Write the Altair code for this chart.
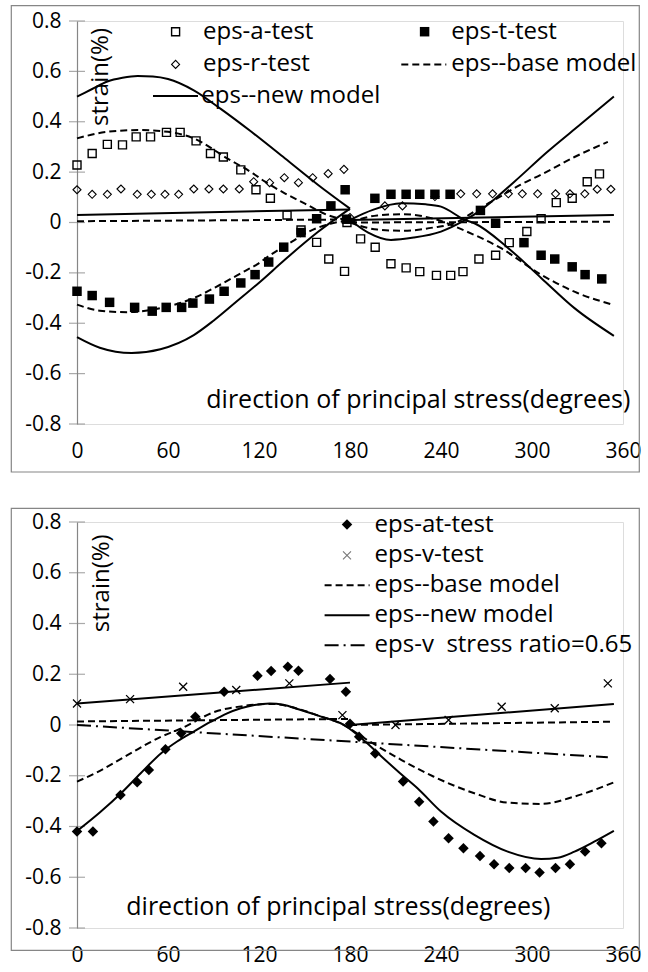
import altair as alt
import pandas as pd

FONT = "Open Sans"
GREY = "#868686"
INK = "#000000"

# ---------------- upper panel: measured strains ----------------
A_TEST_DEG = [0, 10, 20, 30, 39, 48.5, 59, 68, 78.5, 88, 96.5, 108, 118, 127.5, 138.5, 147.7,
              158, 166, 176.4, 178, 187, 196.6, 207, 217, 226, 237, 246.4, 254.5, 265, 276,
              285, 296.6, 306, 316, 326.5, 336.4, 344.5]
A_TEST_VAL = [0.228, 0.274, 0.31, 0.308, 0.34, 0.34, 0.358, 0.358, 0.324, 0.274, 0.26, 0.209,
              0.13, 0.096, 0.03, -0.03, -0.079, -0.145, -0.194, 0.0, -0.065, -0.098, -0.164,
              -0.18, -0.195, -0.21, -0.21, -0.195, -0.145, -0.13, -0.08, -0.036, 0.015, 0.079,
              0.096, 0.162, 0.193]

R_TEST_DEG = [0, 10, 20, 29, 39.7, 49, 58, 67, 77, 87, 96.5, 107, 116.5, 127, 136.7, 146,
              155.4, 165.6, 176, 180, 203, 214.6, 236, 253, 263.5, 274, 284.4, 293.6, 303.7,
              315.5, 325, 334.8, 343, 352]
R_TEST_VAL = [0.13, 0.112, 0.112, 0.133, 0.112, 0.112, 0.112, 0.112, 0.133, 0.133, 0.133,
              0.133, 0.162, 0.158, 0.178, 0.158, 0.178, 0.194, 0.211, 0.02, 0.066, 0.066,
              0.103, 0.114, 0.114, 0.114, 0.114, 0.114, 0.114, 0.114, 0.114, 0.114, 0.132,
              0.132]

T_TEST_DEG = [0, 10, 21.5, 38, 49.6, 58.8, 69, 76.4, 87.3, 97, 108, 117.4, 126.4, 136.3,
              147.7, 158, 167.4, 176.8, 177.7, 196.4, 207, 217, 226, 236, 246, 266, 276,
              294.7, 306, 315, 326.5, 335, 346]
T_TEST_VAL = [-0.273, -0.29, -0.317, -0.337, -0.352, -0.337, -0.337, -0.32, -0.304, -0.273,
              -0.24, -0.207, -0.157, -0.098, -0.04, 0.015, 0.066, 0.13, 0.013, 0.096, 0.112,
              0.112, 0.112, 0.112, 0.112, 0.048, -0.003, -0.08, -0.13, -0.145, -0.176,
              -0.207, -0.224]

# ---------------- upper panel: model curves (two branches each) ----------------
A_NEW_L_DEG = [0, 10, 20, 30, 40, 50, 60, 77, 95, 115, 137, 159, 180]
A_NEW_L_VAL = [0.50, 0.53, 0.56, 0.575, 0.582, 0.58, 0.57, 0.525, 0.45, 0.36, 0.255, 0.149, 0.055]
A_NEW_R_DEG = [180, 192, 207, 222, 240, 256, 266, 288, 310, 332, 354]
A_NEW_R_VAL = [0.01, -0.04, -0.069, -0.06, -0.036, 0.01, 0.048, 0.16, 0.28, 0.39, 0.50]

T_NEW_L_DEG = [0, 15, 36, 55, 77, 90, 105, 121, 137, 159, 180]
T_NEW_L_VAL = [-0.455, -0.497, -0.518, -0.503, -0.447, -0.39, -0.315, -0.234, -0.148, -0.037,
               0.055]
T_NEW_R_DEG = [180, 195, 214, 230, 240, 256, 262, 284, 306, 328, 354]
T_NEW_R_VAL = [0.01, 0.05, 0.076, 0.072, 0.063, 0.01, -0.003, -0.1, -0.22, -0.34, -0.45]

R_NEW_L_DEG = [0, 180]
R_NEW_L_VAL = [0.03, 0.052]
R_NEW_R_DEG = [180, 354]
R_NEW_R_VAL = [0.01, 0.03]

A_BASE_L_DEG = [0, 20, 40, 60, 77, 99, 116, 124, 137, 150, 165, 180]
A_BASE_L_VAL = [0.334, 0.36, 0.367, 0.36, 0.334, 0.255, 0.195, 0.162, 0.116, 0.076, 0.03, 0.008]
A_BASE_R_DEG = [180, 198, 215, 235, 250, 262, 277, 292.5, 306, 328, 350]
A_BASE_R_VAL = [0.0, -0.028, -0.033, -0.02, 0.0, 0.044, 0.096, 0.15, 0.19, 0.26, 0.32]

T_BASE_L_DEG = [0, 15, 33, 55, 77, 95, 110, 119, 126, 142, 151, 167, 180]
T_BASE_L_VAL = [-0.326, -0.35, -0.356, -0.34, -0.30, -0.245, -0.195, -0.165, -0.135, -0.075,
                -0.042, -0.005, 0.008]
T_BASE_R_DEG = [180, 198, 215, 235, 257, 279, 306, 330, 352]
T_BASE_R_VAL = [0.0, 0.028, 0.033, 0.015, -0.036, -0.1, -0.207, -0.28, -0.324]

R_BASE_L_DEG = [0, 180]
R_BASE_L_VAL = [0.005, 0.012]
R_BASE_R_DEG = [180, 354]
R_BASE_R_VAL = [0.0, 0.003]

# ---------------- lower panel: measured strains ----------------
AT_TEST_DEG = [0, 10.5, 28.7, 39.7, 47.4, 58.3, 68.7, 78, 97, 119, 128, 139, 146, 166.8,
               177.3, 180, 186, 196.6, 215, 225.6, 235, 245, 254.8, 265.7, 275, 285, 295.8,
               305, 315.5, 325, 335, 345.8]
AT_TEST_VAL = [-0.42, -0.42, -0.276, -0.226, -0.177, -0.096, -0.033, 0.033, 0.131, 0.194,
               0.213, 0.23, 0.214, 0.181, 0.131, 0.005, -0.046, -0.112, -0.223, -0.302, -0.38,
               -0.446, -0.486, -0.516, -0.549, -0.564, -0.564, -0.581, -0.564, -0.549,
               -0.499, -0.466]

V_TEST_DEG = [0, 35, 70, 105, 140, 175, 210, 245, 280, 315, 350]
V_TEST_VAL = [0.085, 0.102, 0.151, 0.138, 0.164, 0.039, 0.0, 0.02, 0.072, 0.066, 0.164]

# ---------------- lower panel: model curves ----------------
AT_NEW_DEG = [0, 15, 29, 42, 55.5, 66, 77, 88, 99, 108, 117, 127, 136, 146, 160, 176, 190,
              202, 213, 224.5, 240, 262, 284, 306, 317, 328, 341, 354]
AT_NEW_VAL = [-0.418, -0.345, -0.269, -0.19, -0.111, -0.065, -0.026, 0.012, 0.046, 0.066,
              0.079, 0.085, 0.08, 0.062, 0.035, 0.0, -0.065, -0.131, -0.19, -0.249, -0.341,
              -0.433, -0.499, -0.528, -0.523, -0.499, -0.46, -0.417]

AT_BASE_DEG = [0, 12, 33.5, 55.5, 69, 91, 110, 128, 145, 160, 176, 189, 214, 235, 262, 284,
               306, 328, 354]
AT_BASE_VAL = [-0.223, -0.19, -0.118, -0.046, -0.013, 0.052, 0.075, 0.083, 0.065, 0.035, 0.0,
               -0.05, -0.138, -0.203, -0.269, -0.306, -0.311, -0.282, -0.226]

V_NEW_L_DEG = [0, 180]
V_NEW_L_VAL = [0.085, 0.167]
V_NEW_R_DEG = [180, 354]
V_NEW_R_VAL = [0.0, 0.083]

V_BASE_L_DEG = [0, 180]
V_BASE_L_VAL = [0.014, 0.024]
V_BASE_R_DEG = [180, 354]
V_BASE_R_VAL = [0.0, 0.013]

V_RATIO_DEG = [0, 350]
V_RATIO_VAL = [0.0, -0.127]

# ---------------- axis ticks ----------------
X_TICKS = [0, 60, 120, 180, 240, 300, 360]
Y_TICKS = [0.8, 0.6, 0.4, 0.2, 0.0, -0.2, -0.4, -0.6, -0.8]

PLOT_W = 546
TOP_H = 403
BOT_H = 406
TEXT_SIZE = 24
TICK_SIZE = 21


def points(deg, val):
    return pd.DataFrame({"deg": deg, "val": val})


def curves(pairs):
    rows = []
    for name, (deg, val) in pairs.items():
        for d, v in zip(deg, val):
            rows.append({"curve": name, "deg": d, "val": v})
    return pd.DataFrame(rows)


X_ENC = alt.X("deg:Q", scale=alt.Scale(domain=[0, 360], nice=False, zero=False),
              axis=alt.Axis(values=X_TICKS, grid=False, ticks=False, domain=False,
                            title=None, labelFontSize=TICK_SIZE, labelFont=FONT,
                            labelColor=INK, labelPadding=16, labelFlush=False,
                            labelOverlap=False, format="d"))
Y_ENC = alt.Y("val:Q", scale=alt.Scale(domain=[-0.8, 0.8], nice=False, zero=False),
              axis=alt.Axis(values=Y_TICKS, grid=False, ticks=False, domain=True,
                            domainColor=GREY, domainWidth=1.2, title=None,
                            labelFontSize=TICK_SIZE, labelFont=FONT, labelColor=INK,
                            labelPadding=16, labelFlush=False, labelOverlap=False,
                            labelExpr="datum.value == 0 ? '0' : (datum.value < 0 ? '-' : '') + format(abs(datum.value), '.1f')"))


def line_layer(df, dash=None):
    kw = dict(color=INK, strokeWidth=2, interpolate="monotone")
    if dash:
        kw["strokeDash"] = dash
    return alt.Chart(df).mark_line(**kw).encode(x=X_ENC, y=Y_ENC, detail="curve:N")


def one_row(label=""):
    return pd.DataFrame({"t": [label]})


def leg_text(label, px, py):
    return alt.Chart(one_row(label)).mark_text(
        align="left", baseline="middle", fontSize=TEXT_SIZE, font=FONT, color=INK
    ).encode(x=alt.value(px), y=alt.value(py), text="t:N")


def leg_point(px, py, **mk):
    return alt.Chart(one_row()).mark_point(**mk).encode(x=alt.value(px), y=alt.value(py))


def leg_rule(x1, x2, py, dash=None):
    kw = dict(color=INK, strokeWidth=2)
    if dash:
        kw["strokeDash"] = dash
    return alt.Chart(one_row()).mark_rule(**kw).encode(
        x=alt.value(x1), x2=alt.value(x2), y=alt.value(py))


def frame(h_top, h_bottom):
    return alt.Chart(one_row()).mark_rect(
        fillOpacity=0, stroke=GREY, strokeWidth=1.2
    ).encode(x=alt.value(-65.7), x2=alt.value(562.3), y=alt.value(h_top), y2=alt.value(h_bottom))


def y_ticks():
    return alt.Chart(pd.DataFrame({"val": Y_TICKS})).mark_tick(
        color=GREY, thickness=1.2, size=16, orient="horizontal"
    ).encode(y=Y_ENC, x=alt.value(0))


def axis_titles(sx, sy, dx, dy):
    strain = alt.Chart(one_row("strain(%)")).mark_text(
        angle=270, fontSize=TEXT_SIZE, font=FONT, color=INK, align="center", baseline="middle"
    ).encode(x=alt.value(sx), y=alt.value(sy), text="t:N")
    direction = alt.Chart(one_row("direction of principal stress(degrees)")).mark_text(
        fontSize=25, font=FONT, color=INK, align="center", baseline="middle"
    ).encode(x=alt.value(dx), y=alt.value(dy), text="t:N")
    return strain, direction


MARKER_STROKE = 1.4

# ---------------- upper panel ----------------
top_solid = curves({
    "a_l": (A_NEW_L_DEG, A_NEW_L_VAL), "a_r": (A_NEW_R_DEG, A_NEW_R_VAL),
    "t_l": (T_NEW_L_DEG, T_NEW_L_VAL), "t_r": (T_NEW_R_DEG, T_NEW_R_VAL),
    "r_l": (R_NEW_L_DEG, R_NEW_L_VAL), "r_r": (R_NEW_R_DEG, R_NEW_R_VAL),
})
top_dashed = curves({
    "a_l": (A_BASE_L_DEG, A_BASE_L_VAL), "a_r": (A_BASE_R_DEG, A_BASE_R_VAL),
    "t_l": (T_BASE_L_DEG, T_BASE_L_VAL), "t_r": (T_BASE_R_DEG, T_BASE_R_VAL),
    "r_l": (R_BASE_L_DEG, R_BASE_L_VAL), "r_r": (R_BASE_R_DEG, R_BASE_R_VAL),
})

a_pts = alt.Chart(points(A_TEST_DEG, A_TEST_VAL)).mark_point(
    shape="square", filled=False, color=INK, strokeWidth=MARKER_STROKE, size=64, opacity=1
).encode(x=X_ENC, y=Y_ENC)
r_pts = alt.Chart(points(R_TEST_DEG, R_TEST_VAL)).mark_point(
    shape="diamond", filled=False, color=INK, strokeWidth=1.1, size=64, opacity=1
).encode(x=X_ENC, y=Y_ENC)
t_pts = alt.Chart(points(T_TEST_DEG, T_TEST_VAL)).mark_point(
    shape="square", filled=True, color=INK, size=90, opacity=1
).encode(x=X_ENC, y=Y_ENC)

s1, d1 = axis_titles(24.3, 56, 341.3, 378.7)

top = alt.layer(
    frame(-15.3, 451),
    y_ticks(),
    line_layer(top_dashed, [7, 4]),
    line_layer(top_solid),
    r_pts, a_pts, t_pts,
    s1, d1,
    leg_point(98.6, 10.7, shape="square", filled=False, color=INK, strokeWidth=MARKER_STROKE, size=64, opacity=1),
    leg_text("eps-a-test", 126, 10.7),
    leg_point(347.6, 10.7, shape="square", filled=True, color=INK, size=90, opacity=1),
    leg_text("eps-t-test", 374.3, 10.7),
    leg_point(98.6, 43.4, shape="diamond", filled=False, color=INK, strokeWidth=1.1, size=64, opacity=1),
    leg_text("eps-r-test", 126, 43.4),
    leg_rule(324.3, 369.3, 43.4, [7, 4]),
    leg_text("eps--base model", 374.3, 43.4),
    leg_rule(76, 121, 75),
    leg_text("eps--new model", 124.3, 75),
).properties(width=PLOT_W, height=TOP_H)

# ---------------- lower panel ----------------
bot_solid = curves({
    "at": (AT_NEW_DEG, AT_NEW_VAL),
    "v_l": (V_NEW_L_DEG, V_NEW_L_VAL), "v_r": (V_NEW_R_DEG, V_NEW_R_VAL),
})
bot_dashed = curves({
    "at": (AT_BASE_DEG, AT_BASE_VAL),
    "v_l": (V_BASE_L_DEG, V_BASE_L_VAL), "v_r": (V_BASE_R_DEG, V_BASE_R_VAL),
})
bot_ratio = curves({"v": (V_RATIO_DEG, V_RATIO_VAL)})

CROSS = "M -1 -1 L 1 1 M -1 1 L 1 -1"

at_pts = alt.Chart(points(AT_TEST_DEG, AT_TEST_VAL)).mark_point(
    shape="diamond", filled=True, color=INK, size=110, opacity=1
).encode(x=X_ENC, y=Y_ENC)
v_pts = alt.Chart(points(V_TEST_DEG, V_TEST_VAL)).mark_point(
    shape=CROSS, filled=False, color=INK, strokeWidth=1.3, size=64, opacity=1
).encode(x=X_ENC, y=Y_ENC)

s2, d2 = axis_titles(25.3, 61.3, 261.3, 385.3)

bottom = alt.layer(
    frame(-13.7, 428.3),
    y_ticks(),
    line_layer(bot_ratio, [14, 5, 2, 5]),
    line_layer(bot_dashed, [7, 4]),
    line_layer(bot_solid),
    at_pts, v_pts,
    s2, d2,
    leg_point(270, 2.6, shape="diamond", filled=True, color=INK, size=110, opacity=1),
    leg_text("eps-at-test", 297.6, 2.6),
    leg_point(270, 33.3, shape=CROSS, filled=False, color="#777777", strokeWidth=1.1, size=64, opacity=1),
    leg_text("eps-v-test", 297.6, 33.3),
    leg_rule(247.6, 292.6, 63.3, [7, 4]),
    leg_text("eps--base model", 297.6, 63.3),
    leg_rule(247.6, 292.6, 93.3),
    leg_text("eps--new model", 297.6, 93.3),
    leg_rule(247.6, 292.6, 123.3, [14, 5, 2, 5]),
    leg_text("eps-v\u00a0 stress ratio=0.65", 297.6, 123.3),
).properties(width=PLOT_W, height=BOT_H)

chart = alt.vconcat(top, bottom, spacing=33).properties(
    padding={"left": 10, "top": 4, "right": 0, "bottom": 0}
).configure_view(stroke=None).configure(background="white")

chart.save("out.html", embed_options={"renderer": "svg", "actions": False})
